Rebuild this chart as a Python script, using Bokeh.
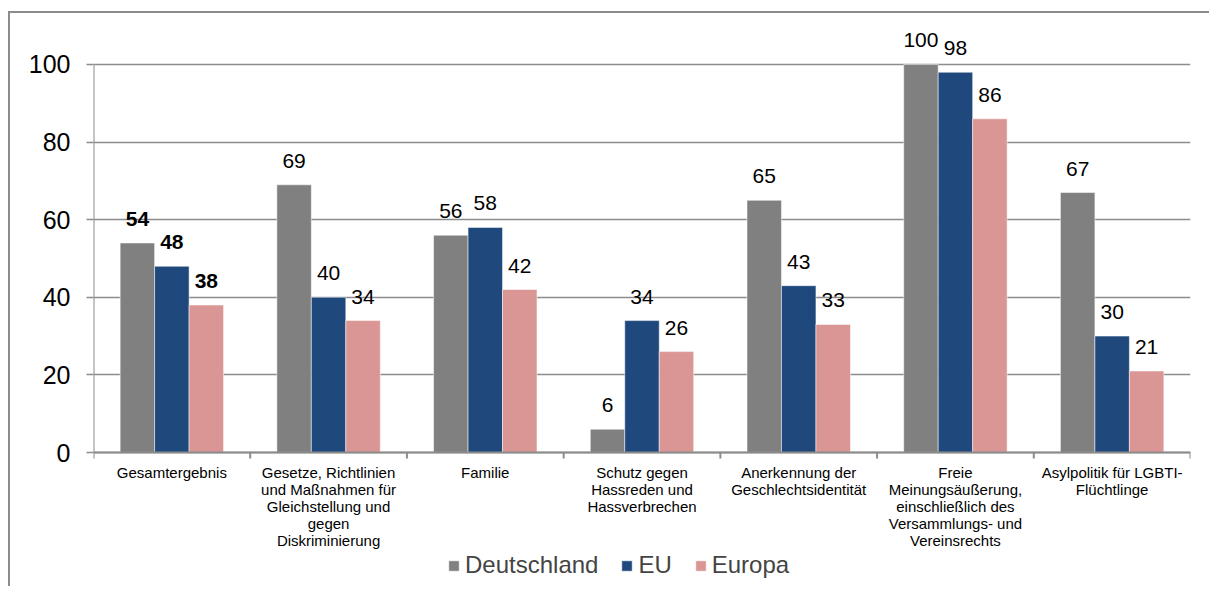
import numpy as np
from bokeh.plotting import figure
from bokeh.models import ColumnDataSource, FixedTicker, Range1d, Legend, LegendItem
from bokeh.core.properties import value
from bokeh.embed import file_html
from bokeh.resources import INLINE

categories = [
    "Gesamtergebnis",
    "Gesetze, Richtlinien\nund Maßnahmen für\nGleichstellung und\ngegen\nDiskriminierung",
    "Familie",
    "Schutz gegen\nHassreden und\nHassverbrechen",
    "Anerkennung der\nGeschlechtsidentität",
    "Freie\nMeinungsäußerung,\neinschließlich des\nVersammlungs- und\nVereinsrechts",
    "Asylpolitik für LGBTI-\nFlüchtlinge",
]
series_names = ["Deutschland", "EU", "Europa"]
deutschland = [54, 69, 56, 6, 65, 100, 67]
eu = [48, 40, 58, 34, 43, 98, 30]
europa = [38, 34, 42, 26, 33, 86, 21]
y_ticks = [0, 20, 40, 60, 80, 100]

colors = ["#808080", "#1F497D", "#D99694"]
FONT = "Liberation Sans"
GRID = "#8c8c8c"

n = len(categories)
p = figure(width=1201, height=575, output_backend="svg", toolbar_location=None,
           x_range=Range1d(0, n), y_range=Range1d(-35.05, 110.05),
           x_axis_location=None,
           min_border_left=83, min_border_right=21, min_border_top=12,
           min_border_bottom=0)
p.styles = {"margin-left": "8px", "margin-top": "11px",
            "border-top": "2px solid #8c8c8c", "border-left": "2px solid #8c8c8c"}
p.outline_line_color = None
p.background_fill_color = "white"

centers = np.arange(n) + 0.5
bw = 0.22
offsets = [-bw, 0.0, bw]
all_vals = [deutschland, eu, europa]
items = []
for name, vals, off, col in zip(series_names, all_vals, offsets, colors):
    src = ColumnDataSource(dict(x=centers + off, top=vals))
    r = p.vbar(x="x", top="top", width=bw, bottom=0, source=src,
               fill_color=col, line_color="white", line_width=0.5)
    items.append(LegendItem(label=name, renderers=[r]))

# data labels: bold for the first category ("Gesamtergebnis")
for vals, off in zip(all_vals, offsets):
    for style, idx in (("bold", [0]), ("normal", list(range(1, n)))):
        src = ColumnDataSource(dict(x=[centers[i] + off for i in idx],
                                    y=[vals[i] for i in idx],
                                    lab=[str(vals[i]) for i in idx]))
        p.text(x="x", y="y", text="lab", source=src, text_align="center",
               text_baseline="bottom", y_offset=-17, text_font=value(FONT),
               text_font_size="21px", text_color="black", text_font_style=style)

# y axis line from 0 to 100 only
p.segment(x0=[0], y0=[y_ticks[0]], x1=[0], y1=[y_ticks[-1]],
          line_color=GRID, line_width=2)
# category (x) axis line at 0 with boundary ticks
p.segment(x0=[0], y0=[0], x1=[n], y1=[0], line_color=GRID, line_width=2)
p.ray(x=list(range(n + 1)), y=[0] * (n + 1), length=6, length_units="screen",
      angle=-np.pi / 2, line_color=GRID, line_width=2)
# category labels
p.text(x=centers, y=[0] * n, text=categories, text_align="center",
       text_baseline="top", y_offset=11, text_font=value(FONT),
       text_font_size="15px", text_color="black", text_line_height=1.0)

# y axis
p.yaxis.ticker = FixedTicker(ticks=y_ticks)
p.yaxis.axis_line_color = None
p.yaxis.major_tick_line_color = GRID
p.yaxis.major_tick_line_width = 1.5
p.yaxis.major_tick_out = 7
p.yaxis.major_tick_in = 0
p.yaxis.minor_tick_line_color = None
p.yaxis.major_label_text_font = FONT
p.yaxis.major_label_text_font_size = "25px"
p.yaxis.major_label_text_color = "black"
p.yaxis.major_label_standoff = 16

p.xgrid.grid_line_color = None
p.ygrid.grid_line_color = GRID
p.ygrid.grid_line_width = 1.5

legend = Legend(items=items, orientation="horizontal", location=(354, 9),
                label_text_font=FONT, label_text_font_size="24px",
                glyph_width=13, glyph_height=13, spacing=22, label_standoff=5,
                border_line_color=None, background_fill_alpha=0,
                padding=0, margin=0)
p.add_layout(legend, "center")

open("out.html", "w").write(file_html(p, INLINE))
